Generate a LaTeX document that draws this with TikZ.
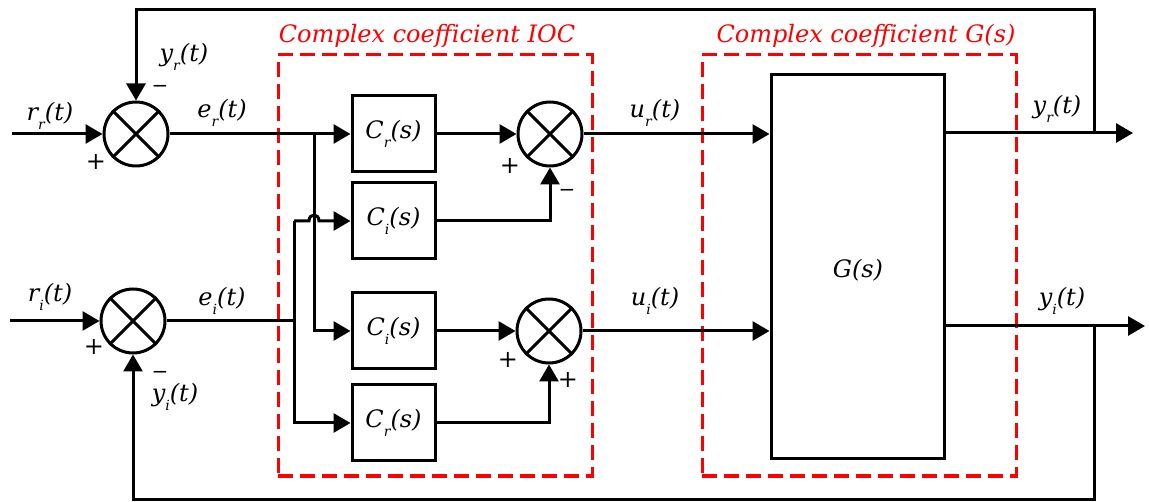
\documentclass[tikz,border=0pt]{standalone}
\usepackage{fontspec}
\setmainfont{DejaVu Serif}
\usetikzlibrary{arrows.meta,calc}
\tikzset{
  line/.style={line width=3pt},
  arr/.style={line width=3pt, -{Triangle[length=17pt,width=19pt]}},
  blk/.style={draw, line width=3pt, minimum width=83pt, minimum height=76pt, inner sep=0pt},
  sumj/.style={draw, circle, line width=3pt, minimum size=64pt, inner sep=0pt},
  lbl/.style={font=\fontsize{24}{26}\selectfont\itshape, inner sep=0pt},
  sgn/.style={font=\fontsize{24}{26}\selectfont, inner sep=0pt},
  grp/.style={draw=red, dash pattern=on 15pt off 7pt, line width=3pt, inner sep=0pt},
  grplbl/.style={text=red, font=\fontsize{24}{26}\selectfont\itshape, inner sep=0pt},
}
\newcommand\sig[3]{#1\raisebox{-0.4em}{\fontsize{14}{15}\selectfont #2}(#3)}
\newcommand\mns{{\fontsize{20}{20}\selectfont −}}
\begin{document}
\begin{tikzpicture}[x=1pt,y=-1pt]
\useasboundingbox (0,0) rectangle (1149,502);
% groups
\node[grp, minimum width=314pt, minimum height=421pt] (ioc) at (435,265.5) {};
\node[grp, minimum width=314pt, minimum height=421pt] (gg) at (859,265.5) {};
\node[grplbl, anchor=base] (iocl) at (427,43) {Complex coefficient IOC};
\node[grplbl, anchor=base] (ggl) at (866,43) {Complex coefficient G(s)};
% summing junctions
\node[sumj] (s1) at (136,134) {};
\node[sumj] (s2) at (133,321) {};
\node[sumj] (s3) at (550,134) {};
\node[sumj] (s4) at (549,331) {};
\foreach \s in {s1,s2,s3,s4} {\draw[line] (\s.45) -- (\s.225) (\s.135) -- (\s.315);}
% blocks
\node[blk, lbl] (cr1) at (393.5,134) {\sig{C}{r}{s}};
\node[blk, lbl] (ci1) at (393.5,221) {\sig{C}{i}{s}};
\node[blk, lbl] (ci2) at (393.5,331) {\sig{C}{i}{s}};
\node[blk, lbl] (cr2) at (393.5,423) {\sig{C}{r}{s}};
\node[draw, line width=3pt, minimum width=173pt, minimum height=384pt, lbl] (G) at (857.5,267) {};
\node[lbl] (Gl) at (858,270) {G(s)};
% coordinates
\coordinate (rrin) at (12,134);
\coordinate (riin) at (10,321);
\coordinate (b1) at (314,134);
\coordinate (b2) at (294,321);
\coordinate (b3) at (294,221);
\coordinate (h1) at (309,221);
\coordinate (h2) at (319,221);
\coordinate (yrout) at (1133,133);
\coordinate (yiout) at (1145,326);
\coordinate (f1) at (1094,133);
\coordinate (ftop) at (1094,10);
\coordinate (f2) at (1094,326);
\coordinate (fbot) at (1094,499);
% connectors
\draw[arr] (rrin) -- (s1);
\draw[arr] (riin) -- (s2);
\draw[arr] (s1) -- (cr1);
\draw[arr] (b1) |- (ci2);
\draw[line] (s2) -- (b2);
\draw[line] (b2) -- (b3);
\draw[arr] (b3) -- (h1) .. controls ($(h1)+(0,-8)$) and ($(h2)+(0,-8)$) .. (h2) -- (ci1);
\draw[arr] (b2) |- (cr2);
\draw[arr] (cr1) -- (s3);
\draw[arr] (ci1) -| (s3);
\draw[arr] (ci2) -- (s4);
\draw[arr] (cr2) -| (s4);
\draw[arr] (s3) -- (s3 -| G.west);
\draw[arr] (s4) -- (s4 -| G.west);
\draw[arr] (yrout -| G.east) -- (yrout);
\draw[arr] (yiout -| G.east) -- (yiout);
\draw[arr] (f1) -- (ftop) -| (s1);
\draw[arr] (f2) -- (fbot) -| (s2);
% labels
\node[lbl] (lrr) at (50,116) {\sig{r}{r}{t}};
\node[lbl] (lyr1) at (184,57) {\sig{y}{r}{t}};
\node[lbl] (ler) at (222,113) {\sig{e}{r}{t}};
\node[lbl] (lur) at (655,113) {\sig{u}{r}{t}};
\node[lbl] (lyr2) at (1057,109) {\sig{y}{r}{t}};
\node[lbl] (lri) at (50,297) {\sig{r}{i}{t}};
\node[lbl] (lei) at (222,301) {\sig{e}{i}{t}};
\node[lbl] (lui) at (655,301) {\sig{u}{i}{t}};
\node[lbl] (lyi2) at (1062,301) {\sig{y}{i}{t}};
\node[lbl] (lyi1) at (175,397) {\sig{y}{i}{t}};
\node[sgn] (p1) at (96,162) {+};
\node[sgn] (m1) at (160,89) {\mns};
\node[sgn] (p2) at (94,347) {+};
\node[sgn] (m2) at (160,375) {\mns};
\node[sgn] (p3) at (510,166) {+};
\node[sgn] (m3) at (567,193) {\mns};
\node[sgn] (p4) at (508,360) {+};
\node[sgn] (p5) at (568,380) {+};
\end{tikzpicture}
\end{document}
